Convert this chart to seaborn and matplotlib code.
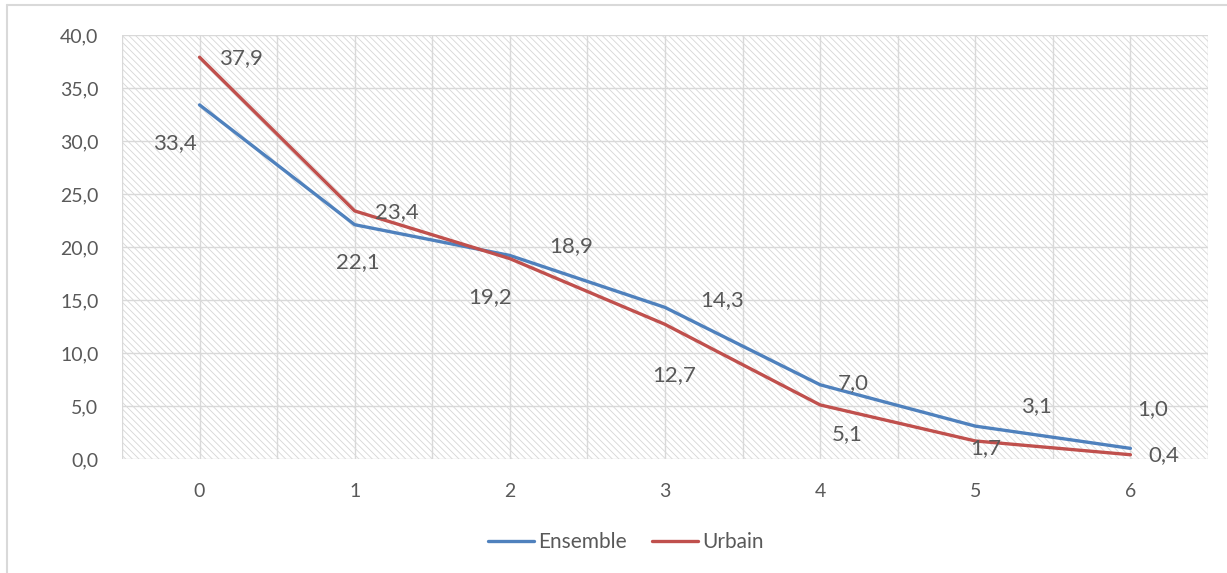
import matplotlib
matplotlib.use("Agg")
import matplotlib.pyplot as plt
import seaborn as sns
import pandas as pd
from matplotlib.patches import Rectangle
from matplotlib.lines import Line2D

# Data
categories = [0, 1, 2, 3, 4, 5, 6]
ensemble = [33.4, 22.1, 19.2, 14.3, 7.0, 3.1, 1.0]
urbain = [37.9, 23.4, 18.9, 12.7, 5.1, 1.7, 0.4]
series_names = ["Ensemble", "Urbain"]
y_ticks = [0, 5, 10, 15, 20, 25, 30, 35, 40]

# Label offsets (pixels) for each value label
ens_offsets = [(-25, -38), (3, -37), (-20, -42), (57, 7), (33, 2), (61, 20), (22, 39)]
urb_offsets = [(41, -1), (42, -1), (61, 13), (9, -51), (27, -29), (10, -7), (33, 0)]

colors = {"Ensemble": "#4F81BD", "Urbain": "#C0504D"}
text_color = "#595959"
grid_color = "#d9d9d9"

sns.set_theme(style="white")
plt.rcParams["font.family"] = ["Lato", "DejaVu Sans"]
plt.rcParams["hatch.linewidth"] = 0.6
plt.rcParams["hatch.color"] = "#d6d6d6"

df = pd.DataFrame({
    "x": categories * 2,
    "value": ensemble + urbain,
    "serie": [series_names[0]] * len(categories) + [series_names[1]] * len(categories),
})

fig = plt.figure(figsize=(12.27, 5.73), dpi=100)
ax = fig.add_axes([0.0994, 0.199, 0.8851, 0.740])

ax.set_xlim(-0.5, 6.5)
ax.set_ylim(0, 40)

# hatched plot-area background
ax.add_patch(Rectangle((-0.5, 0), 7, 40, facecolor="white", edgecolor="#d6d6d6",
                       hatch="\\\\\\\\\\", linewidth=0, zorder=0))

# gridlines
for gx in [i * 0.5 - 0.5 for i in range(15)]:
    ax.axvline(gx, color=grid_color, lw=1.0, zorder=1)
for gy in y_ticks:
    ax.axhline(gy, color=grid_color, lw=1.0, zorder=1)

sns.lineplot(data=df, x="x", y="value", hue="serie", palette=colors, lw=2.4,
             legend=False, ax=ax, zorder=3)

for x, v, off in zip(categories, ensemble, ens_offsets):
    ax.annotate(f"{v:.1f}".replace(".", ","), (x, v), xytext=off,
                textcoords="offset pixels", ha="center", va="center",
                fontsize=16, color=text_color, zorder=4)
for x, v, off in zip(categories, urbain, urb_offsets):
    ax.annotate(f"{v:.1f}".replace(".", ","), (x, v), xytext=off,
                textcoords="offset pixels", ha="center", va="center",
                fontsize=16, color=text_color, zorder=4)

ax.set_xticks(categories)
ax.set_xticklabels([str(c) for c in categories])
ax.set_yticks(y_ticks)
ax.set_yticklabels([f"{t:.1f}".replace(".", ",") for t in y_ticks])
ax.tick_params(axis="both", length=0, labelsize=14, labelcolor=text_color)
ax.tick_params(axis="y", pad=17)
ax.tick_params(axis="x", pad=17)
ax.set_xlabel("")
ax.set_ylabel("")
for s in ax.spines.values():
    s.set_visible(False)

handles = [Line2D([], [], color=colors[n], lw=2.4) for n in series_names]
fig.legend(handles, series_names, loc="center", bbox_to_anchor=(0.51, 0.054), ncol=2,
           frameon=False, fontsize=15, handlelength=2.2, handletextpad=0.2,
           columnspacing=1.2, labelcolor=text_color)

# chart frame
fig.add_artist(Line2D([7 / 1227, 7 / 1227], [0, 1 - 5 / 573], transform=fig.transFigure,
                      color="#d9d9d9", lw=1.5))
fig.add_artist(Line2D([7 / 1227, 1], [1 - 5 / 573, 1 - 5 / 573], transform=fig.transFigure,
                      color="#d9d9d9", lw=1.5))

fig.savefig("out.png", dpi=100)
